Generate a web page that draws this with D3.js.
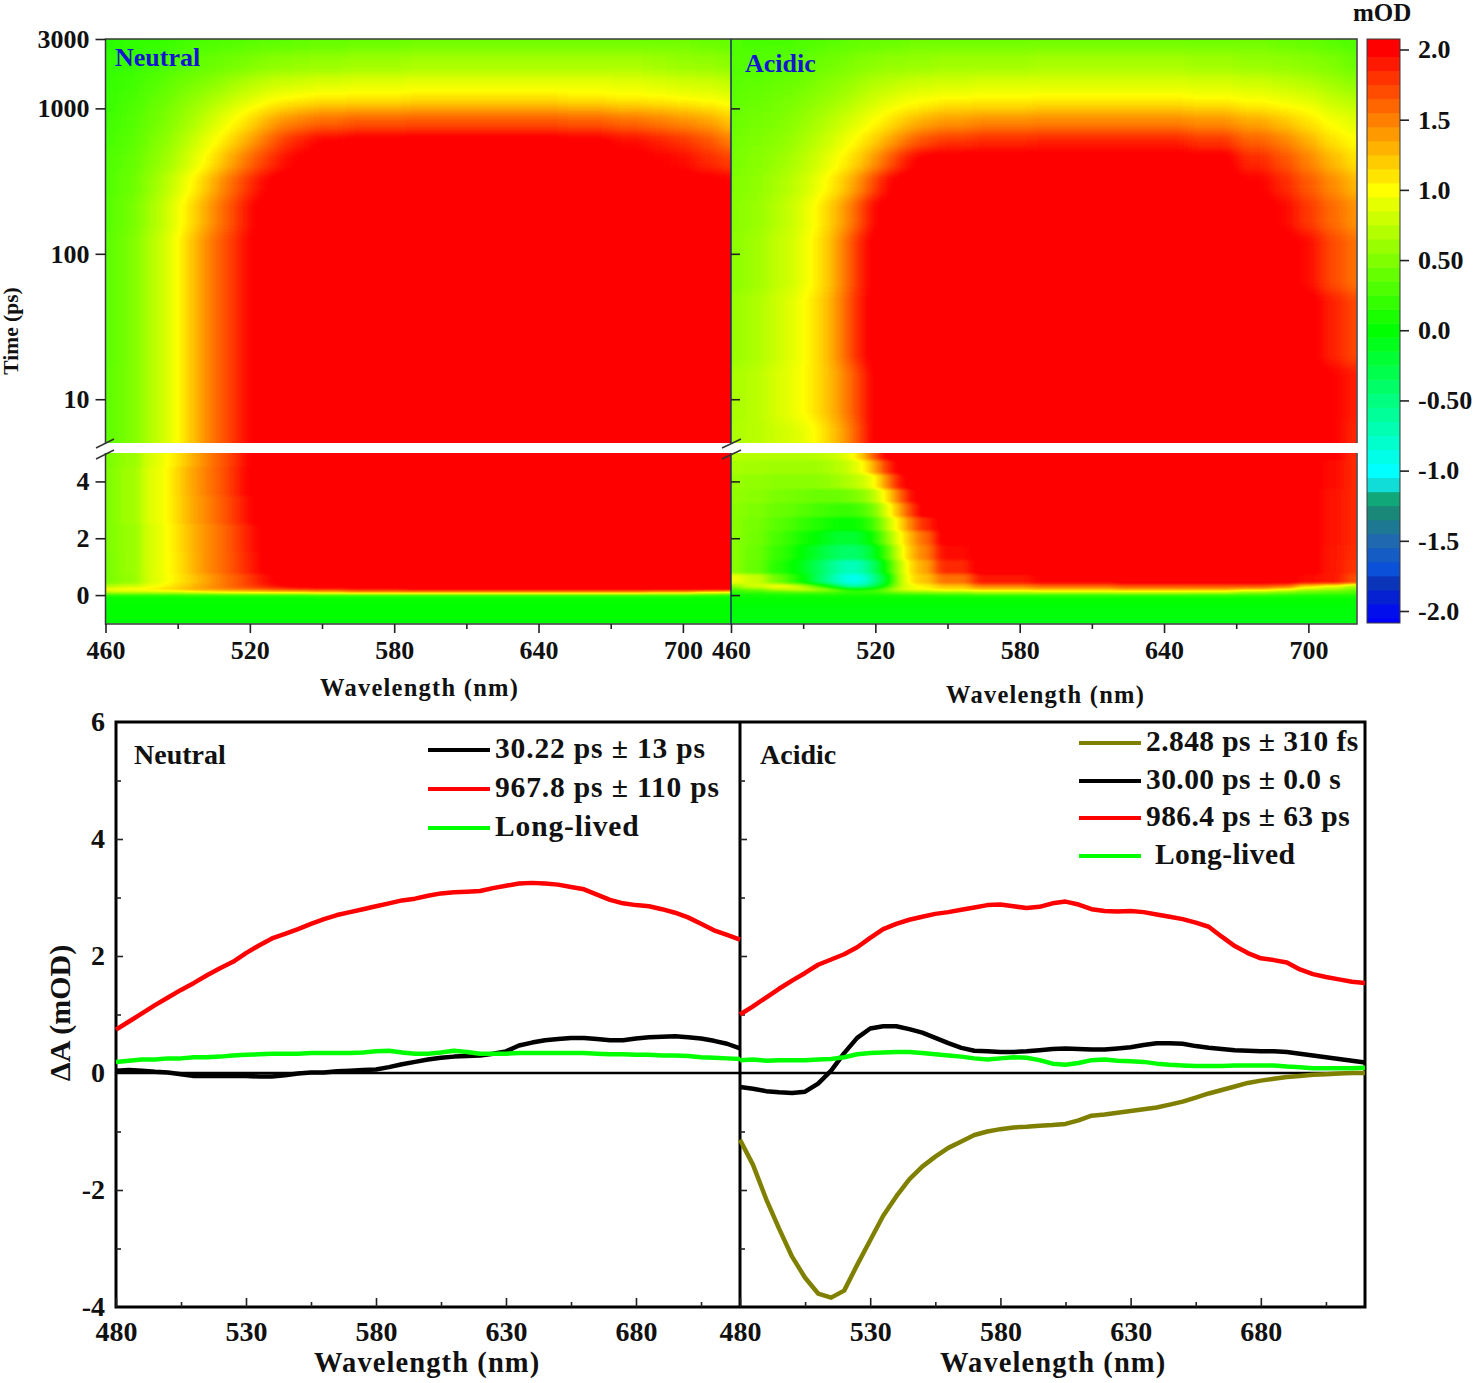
<!DOCTYPE html>
<html lang="en">
	<head>
		<meta charset="utf-8">
		<title>Transient absorption maps and decay spectra</title>
		<script type="text/javascript" src="https://d3js.org/d3.v7.min.js"></script>
		<style type="text/css">
			html, body { margin: 0; padding: 0; background: #fff; }
			svg { display: block; }
			text { font-family: "Liberation Serif", serif; font-weight: bold; fill: #111; }
		</style>
	</head>
	<body>
		<script type="text/javascript">

			//Heat map axes
			var mapWavelengths = [460,470,480,485,490, 495,500,505,510,515, 520,525,530,535,540, 550,570,600,640,660, 680,690,700,710,720];
			var upperTimes = [3000,2000,1500,1200,1000,800,600,450,300,200,100,30,10,5];
			var neutralLowerTimes = [5,4,3,2,1,0.5,0.3,0.2,0.1,0,-0.1,-0.5,-1];
			var acidicLowerTimes = [5,4.5,4,3.5,3,2.5,2,1.5,1,0.5,0.3,0.2,0.1,0,-0.1,-0.5,-1];

			//Heat map values in mOD, one row per time
			var neutralUpperMap = [
				[.15,.18,.20,.22,.25, .27,.30,.30,.32,.33, .35,.36,.36,.37,.38, .40,.42,.45,.45,.45, .45,.45,.45,.42,.40],
				[.20,.22,.27,.30,.33, .36,.40,.42,.45,.47, .50,.52,.55,.56,.57, .60,.62,.65,.65,.65, .65,.62,.60,.58,.55],
				[.20,.25,.32,.37,.42, .46,.50,.55,.60,.65, .70,.75,.78,.80,.82, .85,.88,.90,.90,.90, .88,.85,.82,.80,.75],
				[.22,.27,.36,.42,.48, .54,.60,.66,.72,.78, .84,.90,.95,.98,1.0, 1.03,1.05,1.08,1.08,1.05, 1.02,1.0,.97,.93,.90],
				[.22,.30,.40,.46,.52, .60,.68,.76,.84,.92, 1.0,1.07,1.15,1.2,1.25, 1.3,1.33,1.35,1.35,1.33, 1.28,1.24,1.2,1.14,1.05],
				[.25,.32,.43,.50,.58, .66,.76,.86,.95,1.05, 1.15,1.27,1.38,1.47,1.53, 1.62,1.68,1.7,1.7,1.66, 1.6,1.53,1.47,1.38,1.25],
				[.27,.35,.48,.56,.65, .75,.87,.98,1.1,1.22, 1.35,1.5,1.65,1.78,1.88, 2.0,2.05,2.08,2.08,2.03, 1.95,1.88,1.8,1.68,1.5],
				[.30,.38,.53,.62,.73, .85,.98,1.12,1.27,1.42, 1.58,1.72,1.85,1.95,2.02, 2.1,2.1,2.1,2.1,2.1, 2.05,2.0,1.95,1.85,1.75],
				[.32,.42,.60,.72,.85, 1.0,1.15,1.32,1.5,1.65, 1.82,1.95,2.05,2.1,2.1, 2.1,2.1,2.1,2.1,2.1, 2.1,2.1,2.1,2.05,2.0],
				[.33,.45,.66,.80,.95, 1.12,1.28,1.45,1.62,1.78, 1.95,2.05,2.1,2.1,2.1, 2.1,2.1,2.1,2.1,2.1, 2.1,2.1,2.1,2.1,2.1],
				[.35,.48,.70,.85,1.0, 1.2,1.38,1.55,1.7,1.85, 2.0,2.1,2.1,2.1,2.1, 2.1,2.1,2.1,2.1,2.1, 2.1,2.1,2.1,2.1,2.1],
				[.35,.48,.70,.85,1.0, 1.2,1.38,1.55,1.7,1.85, 2.0,2.1,2.1,2.1,2.1, 2.1,2.1,2.1,2.1,2.1, 2.1,2.1,2.1,2.1,2.1],
				[.36,.48,.70,.85,1.0, 1.2,1.38,1.55,1.7,1.85, 2.0,2.1,2.1,2.1,2.1, 2.1,2.1,2.1,2.1,2.1, 2.1,2.1,2.1,2.1,2.1],
				[.37,.48,.70,.85,1.0, 1.2,1.38,1.55,1.7,1.85, 2.0,2.1,2.1,2.1,2.1, 2.1,2.1,2.1,2.1,2.1, 2.1,2.1,2.1,2.1,2.1]
			];
			var neutralLowerMap = [
				[.48,.60,.86,.98,1.12, 1.28,1.42,1.56,1.7,1.85, 2.0,2.1,2.1,2.1,2.1, 2.1,2.1,2.1,2.1,2.1, 2.1,2.1,2.1,2.1,2.1],
				[.50,.62,.88,1.0,1.16, 1.32,1.45,1.58,1.72,1.87, 2.02,2.1,2.1,2.1,2.1, 2.1,2.1,2.1,2.1,2.1, 2.1,2.1,2.1,2.1,2.1],
				[.50,.62,.88,1.0,1.15, 1.3,1.42,1.55,1.68,1.82, 1.98,2.08,2.1,2.1,2.1, 2.1,2.1,2.1,2.1,2.1, 2.1,2.1,2.1,2.1,2.1],
				[.50,.60,.86,.98,1.12, 1.26,1.38,1.5,1.62,1.76, 1.9,2.02,2.1,2.1,2.1, 2.1,2.1,2.1,2.1,2.1, 2.1,2.1,2.1,2.1,2.1],
				[.48,.60,.86,.98,1.1, 1.25,1.38,1.5,1.62,1.75, 1.88,2.0,2.1,2.1,2.1, 2.1,2.1,2.1,2.1,2.1, 2.1,2.1,2.1,2.1,2.1],
				[.48,.58,.85,.96,1.08, 1.2,1.3,1.42,1.55,1.65, 1.78,1.9,2.0,2.08,2.1, 2.1,2.1,2.1,2.1,2.1, 2.1,2.1,2.1,2.1,2.1],
				[.70,.80,.95,1.05,1.15, 1.25,1.35,1.45,1.55,1.65, 1.75,1.85,1.92,2.0,2.05, 2.1,2.1,2.1,2.1,2.1, 2.1,2.1,2.1,2.1,2.1],
				[1.0,1.05,1.1,1.15,1.2, 1.3,1.35,1.4,1.45,1.5, 1.55,1.6,1.65,1.7,1.75, 1.8,1.9,2.0,2.0,2.0, 2.0,2.0,2.0,2.0,2.0],
				[.70,.72,.75,.78,.80, .85,.90,.95,1.0,1.0, 1.05,1.05,1.1,1.1,1.1, 1.2,1.3,1.3,1.3,1.3, 1.3,1.2,1.2,1.0,.90],
				[.12,.12,.12,.12,.12, .14,.14,.14,.15,.15, .15,.15,.15,.16,.16, .18,.20,.20,.20,.20, .20,.18,.18,.15,.14],
				[.03,.03,.03,.03,.03, .03,.03,.03,.03,.03, .03,.03,.03,.03,.03, .03,.03,.03,.03,.03, .03,.03,.03,.03,.03],
				[0,0,0,0,0, 0,0,0,0,0, 0,0,0,0,0, 0,0,0,0,0, 0,0,0,0,0],
				[0,0,0,0,0, 0,0,0,0,0, 0,0,0,0,0, 0,0,0,0,0, 0,0,0,0,0]
			];
			var acidicUpperMap = [
				[.30,.28,.28,.28,.30, .32,.35,.35,.38,.40, .40,.42,.42,.45,.45, .45,.45,.45,.45,.45, .45,.42,.40,.35,.30],
				[.33,.33,.35,.37,.40, .42,.45,.47,.50,.52, .55,.57,.58,.60,.60, .62,.62,.65,.65,.62, .60,.58,.55,.50,.42],
				[.35,.37,.40,.42,.45, .48,.52,.56,.60,.65, .70,.72,.75,.78,.80, .82,.85,.85,.85,.83, .80,.75,.70,.62,.55],
				[.37,.40,.44,.47,.50, .54,.58,.63,.68,.74, .80,.84,.90,.93,.95, .98,1.0,1.02,1.02,.98, .95,.90,.85,.75,.68],
				[.40,.43,.47,.50,.55, .60,.64,.70,.76,.83, .90,.96,1.02,1.07,1.12, 1.18,1.2,1.22,1.22,1.2, 1.12,1.05,.98,.86,.78],
				[.42,.46,.50,.55,.60, .65,.70,.78,.85,.93, 1.02,1.1,1.2,1.28,1.35, 1.42,1.48,1.5,1.5,1.45, 1.35,1.25,1.12,.98,.88],
				[.45,.50,.55,.60,.66, .72,.80,.88,.98,1.08, 1.2,1.32,1.45,1.58,1.7, 1.8,1.85,1.88,1.88,1.8, 1.62,1.48,1.3,1.12,1.0],
				[.47,.52,.60,.66,.72, .80,.90,1.0,1.12,1.25, 1.42,1.6,1.8,1.95,2.05, 2.1,2.1,2.1,2.1,2.05, 1.85,1.68,1.48,1.28,1.12],
				[.50,.56,.65,.72,.80, .90,1.02,1.15,1.3,1.5, 1.75,1.95,2.1,2.1,2.1, 2.1,2.1,2.1,2.1,2.1, 2.0,1.85,1.65,1.45,1.28],
				[.52,.60,.70,.78,.88, 1.0,1.15,1.3,1.5,1.75, 2.0,2.1,2.1,2.1,2.1, 2.1,2.1,2.1,2.1,2.1, 2.1,1.98,1.78,1.58,1.42],
				[.55,.62,.75,.82,.92, 1.05,1.2,1.4,1.65,1.9, 2.08,2.1,2.1,2.1,2.1, 2.1,2.1,2.1,2.1,2.1, 2.1,2.1,1.95,1.72,1.55],
				[.60,.68,.80,.88,.98, 1.1,1.25,1.45,1.7,1.95, 2.1,2.1,2.1,2.1,2.1, 2.1,2.1,2.1,2.1,2.1, 2.1,2.1,2.08,1.88,1.72],
				[.65,.72,.85,.92,1.0, 1.1,1.22,1.38,1.58,1.82, 2.05,2.1,2.1,2.1,2.1, 2.1,2.1,2.1,2.1,2.1, 2.1,2.1,2.1,2.0,1.88],
				[.68,.72,.80,.85,.90, 1.0,1.15,1.3,1.5,1.8, 2.1,2.1,2.1,2.1,2.1, 2.1,2.1,2.1,2.1,2.1, 2.1,2.1,2.1,2.0,1.85]
			];
			var acidicLowerMap = [
				[.72,.70,.70,.70,.70, .72,.75,.82,.95,1.25, 1.7,2.05,2.1,2.1,2.1, 2.1,2.1,2.1,2.1,2.1, 2.1,2.1,2.1,2.0,1.85],
				[.66,.64,.62,.62,.62, .63,.66,.72,.82,1.0, 1.35,1.8,2.05,2.1,2.1, 2.1,2.1,2.1,2.1,2.1, 2.1,2.1,2.05,1.95,1.85],
				[.60,.58,.55,.55,.55, .55,.58,.62,.70,.80, 1.0,1.45,1.9,2.1,2.1, 2.1,2.1,2.1,2.1,2.1, 2.1,2.1,2.05,1.95,1.85],
				[.58,.54,.48,.46,.44, .42,.42,.42,.46,.55, .75,1.1,1.55,1.95,2.1, 2.1,2.1,2.1,2.1,2.1, 2.1,2.1,2.05,1.92,1.85],
				[.55,.50,.42,.38,.33, .28,.25,.22,.22,.30, .50,.90,1.3,1.75,2.1, 2.1,2.1,2.1,2.1,2.1, 2.1,2.1,2.05,1.92,1.85],
				[.55,.47,.35,.28,.20, .14,.08,.03,.02,.08, .30,.72,1.1,1.5,1.85, 2.1,2.1,2.1,2.1,2.1, 2.1,2.1,2.05,1.92,1.85],
				[.55,.45,.28,.18,.08, 0,-.1,-.18,-.2,-.12, .10,.55,.95,1.3,1.6, 2.05,2.1,2.1,2.1,2.1, 2.1,2.1,2.05,1.92,1.85],
				[.55,.42,.22,.10,-.02, -.15,-.28,-.38,-.42,-.35, -.1,.30,.85,1.25,1.5, 1.95,2.1,2.1,2.1,2.1, 2.1,2.1,2.05,1.9,1.82],
				[.55,.40,.15,.03,-.1, -.3,-.5,-.65,-.75,-.65, -.35,.10,.70,1.15,1.35, 1.85,2.1,2.1,2.1,2.1, 2.1,2.1,2.05,1.9,1.8],
				[.95,.78,.45,.20,0, -.3,-.55,-.8,-.95,-.9, -.55,-.1,.65,1.1,1.25, 1.55,1.9,2.0,2.05,2.05, 2.05,2.05,1.95,1.9,1.7],
				[.60,.85,1.0,.90,.70, .35,0,-.4,-.7,-.6, -.3,.10,.70,.95,1.05, 1.25,1.5,1.6,1.7,1.7, 1.7,1.6,1.2,1.0,.70],
				[.30,.45,.70,.80,.85, .75,.60,.35,.10,.10, .20,.50,.85,.95,1.0, 1.1,1.2,1.25,1.3,1.3, 1.2,1.0,.70,.60,.45],
				[.15,.20,.25,.30,.30, .30,.30,.25,.20,.20, .25,.35,.45,.50,.55, .60,.70,.75,.80,.75, .60,.50,.40,.35,.30],
				[.05,.05,.05,.08,.08, .08,.08,.05,.05,.05, .05,.08,.10,.10,.10, .12,.15,.15,.15,.15, .15,.12,.10,.10,.10],
				[.02,.02,.02,.02,.02, .02,.02,.02,.02,.02, .02,.02,.02,.02,.02, .02,.02,.02,.02,.02, .02,.02,.02,.02,.02],
				[-.02,-.02,-.02,-.02,-.02, -.02,-.02,-.02,-.02,-.02, -.02,-.02,-.02,-.02,-.02, -.02,-.02,-.02,-.02,-.02, -.02,-.02,-.02,-.02,-.02],
				[-.05,-.05,-.05,-.05,-.05, -.05,-.05,-.05,-.05,-.05, -.05,-.05,-.05,-.05,-.05, -.05,-.05,-.05,-.05,-.05, -.05,-.05,-.05,-.05,-.05]
			];

			//Colour scale of the maps
			var colorStops = [-2.07,-1.8,-1.7,-1.5,-1.3,-1.2,-1.1,-1,-0.5,0,0.5,1,1.5,2,2.07];
			var colorValues = ["#0000ff","#0a35b8","#0a50d8","#2068b0","#1a8878","#10a878","#10dcd8","#00ffff","#00ff80","#00ff00","#80ff00","#ffff00","#ff7f00","#ff0000","#ff0000"];
			var colorbarTicks = [2,1.5,1,0.5,0,-0.5,-1,-1.5,-2];
			var colorbarLabels = ["2.0","1.5","1.0","0.50","0.0","-0.50","-1.0","-1.5","-2.0"];

			//Decay spectra, 480 to 720 nm every 5 nm
			var spectraWavelengths = d3.range(480, 721, 5);
			var neutralBlack = [.04,.05,.04,.02,.01,-.02,-.05,-.05,-.05,-.05,-.05,-.06,-.06,-.04,-.01,.01,.01,.03,.04,.05,.06,.10,.15,.19,.23,.26,.28,.29,.30,.33,.37,.47,.52,.56,.58,.60,.60,.58,.56,.56,.59,.61,.62,.63,.61,.59,.55,.50,.42];
			var neutralRed = [.74,.88,1.02,1.16,1.29,1.42,1.54,1.67,1.79,1.90,2.05,2.18,2.30,2.38,2.46,2.55,2.63,2.70,2.75,2.80,2.85,2.90,2.95,2.98,3.03,3.07,3.09,3.10,3.11,3.16,3.20,3.24,3.25,3.24,3.22,3.18,3.14,3.05,2.96,2.90,2.87,2.85,2.80,2.74,2.66,2.55,2.44,2.36,2.28];
			var neutralGreen = [.19,.21,.23,.23,.25,.25,.27,.27,.28,.30,.31,.32,.33,.33,.33,.34,.34,.34,.34,.35,.37,.38,.35,.33,.33,.35,.38,.36,.33,.33,.33,.34,.34,.34,.34,.34,.34,.33,.32,.32,.31,.31,.30,.30,.29,.27,.26,.25,.24];
			var acidicOlive = [-1.14,-1.57,-2.15,-2.66,-3.14,-3.50,-3.77,-3.84,-3.72,-3.28,-2.86,-2.44,-2.11,-1.82,-1.60,-1.43,-1.28,-1.17,-1.06,-1.00,-.96,-.93,-.92,-.90,-.89,-.87,-.81,-.73,-.71,-.68,-.65,-.62,-.59,-.54,-.49,-.42,-.35,-.29,-.23,-.17,-.13,-.10,-.07,-.05,-.03,-.02,-.01,0,0];
			var acidicBlack = [-.24,-.27,-.31,-.33,-.34,-.32,-.18,.04,.34,.60,.76,.80,.80,.75,.69,.60,.51,.43,.38,.37,.36,.36,.37,.39,.41,.42,.41,.40,.40,.42,.44,.48,.51,.51,.50,.46,.43,.41,.39,.38,.37,.37,.36,.33,.30,.27,.24,.21,.18];
			var acidicRed = [1.0,1.14,1.29,1.44,1.58,1.71,1.85,1.94,2.03,2.15,2.31,2.46,2.55,2.62,2.67,2.72,2.75,2.79,2.83,2.87,2.88,2.85,2.82,2.84,2.90,2.93,2.88,2.80,2.77,2.76,2.77,2.75,2.71,2.67,2.63,2.57,2.50,2.33,2.17,2.05,1.96,1.93,1.89,1.77,1.69,1.64,1.60,1.56,1.54];
			var acidicGreen = [.22,.23,.21,.22,.22,.22,.23,.24,.27,.32,.34,.35,.36,.36,.34,.32,.30,.28,.25,.23,.25,.27,.26,.22,.16,.14,.17,.22,.23,.21,.20,.19,.16,.14,.13,.12,.12,.12,.13,.13,.13,.13,.11,.10,.08,.08,.08,.08,.09];

			var neutralLabels = ["30.22 ps ± 13 ps","967.8 ps ± 110 ps","Long-lived"];
			var acidicLabels = ["2.848 ps ± 310 fs","30.00 ps ± 0.0 s","986.4 ps ± 63 ps","Long-lived"];

			var w = 1477;
			var h = 1383;

			var svg = d3.select("body")
						.append("svg")
						.attr("width", w)
						.attr("height", h);

			var defs = svg.append("defs");

			//Colour map: value -> grey -> colour, so that smoothing happens on values and not on RGB
			var colorScale = d3.scaleLinear().domain(colorStops).range(colorValues).clamp(true);
			var greyScale = d3.scaleLinear().domain([-2.07, 2.07]).range([0, 255]).clamp(true);
			var levels = d3.range(256).map(function(i) {
				return d3.rgb(colorScale(greyScale.invert(i)));
			});

			function addMapFilter(id, blur) {
				var filter = defs.append("filter")
					.attr("id", id)
					.attr("filterUnits", "userSpaceOnUse")
					.attr("x", 0).attr("y", 0)
					.attr("width", w).attr("height", h)
					.attr("color-interpolation-filters", "sRGB");
				filter.append("feGaussianBlur").attr("stdDeviation", blur);
				var transfer = filter.append("feComponentTransfer");
				["r", "g", "b"].forEach(function(c) {
					transfer.append("feFunc" + c.toUpperCase())
						.attr("type", "table")
						.attr("tableValues", levels.map(function(l) { return (l[c] / 255).toFixed(3); }).join(" "));
				});
			}
			addMapFilter("blurUpper", "8 6");
			addMapFilter("blurLower", "6 1.4");

			//Scales
			var yUpper = d3.scaleLog().domain([5, 3000]).range([443, 39]);
			var yLower = d3.scaleLinear().domain([-1, 5]).range([623.5, 453]);
			var xNeutralMap = d3.scaleLinear().domain([460, 720]).range([105.5, 731]);
			var xAcidicMap = d3.scaleLinear().domain([460, 720]).range([731, 1356.5]);

			var ySpectra = d3.scaleLinear().domain([-4, 6]).range([1307, 722]);
			var xNeutralSpectra = d3.scaleLinear().domain([480, 720]).range([116, 740]);
			var xAcidicSpectra = d3.scaleLinear().domain([480, 720]).range([740, 1365]);

			var yColorbar = d3.scaleLinear().domain([-2, 2]).range([611, 49.5]);

			//Cell edges halfway between neighbouring centres, outer cells run past the clip
			function cellEdges(centres, scale) {
				return centres.map(function(d, i) {
					var p = scale(d);
					var before = i > 0 ? (scale(centres[i - 1]) + p) / 2 : p - (scale(centres[1]) - p) - 40 * Math.sign(scale(centres[1]) - p);
					var after = i < centres.length - 1 ? (scale(centres[i + 1]) + p) / 2 : p + (p - scale(centres[i - 1])) + 40 * Math.sign(p - scale(centres[i - 1]));
					return [Math.min(before, after), Math.max(before, after)];
				});
			}

			function drawMap(id, xScale, yScale, times, map, filterId) {
				var x0 = xScale.range()[0];
				var x1 = xScale.range()[1];
				var yr = yScale.range();
				defs.append("clipPath").attr("id", "clip" + id)
					.append("rect")
					.attr("x", x0).attr("width", x1 - x0)
					.attr("y", Math.min(yr[0], yr[1])).attr("height", Math.abs(yr[0] - yr[1]));

				var colEdges = cellEdges(mapWavelengths, xScale);
				var rowEdges = cellEdges(times, yScale);
				var cells = [];
				map.forEach(function(row, i) {
					row.forEach(function(v, j) {
						cells.push({ r: rowEdges[i], c: colEdges[j], v: v });
					});
				});

				svg.append("g")
					.attr("clip-path", "url(#clip" + id + ")")
					.append("g")
					.attr("filter", "url(#" + filterId + ")")
					.selectAll("rect")
					.data(cells)
					.enter()
					.append("rect")
					.attr("x", function(d) { return d.c[0]; })
					.attr("y", function(d) { return d.r[0]; })
					.attr("width", function(d) { return d.c[1] - d.c[0] + 0.5; })
					.attr("height", function(d) { return d.r[1] - d.r[0] + 0.5; })
					.attr("shape-rendering", "crispEdges")
					.attr("fill", function(d) {
						var g = Math.round(greyScale(d.v));
						return "rgb(" + g + "," + g + "," + g + ")";
					});
			}

			drawMap("NU", xNeutralMap, yUpper, upperTimes, neutralUpperMap, "blurUpper");
			drawMap("NL", xNeutralMap, yLower, neutralLowerTimes, neutralLowerMap, "blurLower");
			drawMap("AU", xAcidicMap, yUpper, upperTimes, acidicUpperMap, "blurUpper");
			drawMap("AL", xAcidicMap, yLower, acidicLowerTimes, acidicLowerMap, "blurLower");

			//Map frames
			var frame = svg.append("g").attr("fill", "none").attr("stroke", "#3a3a3a").attr("stroke-width", 1.5);
			frame.append("path").attr("d", "M105.5,443V39H1357V443M105.5,453V624H1357V453");
			svg.append("path")
				.attr("d", "M731,39V443M731,453V624")
				.attr("fill", "none")
				.attr("stroke", "#10306a")
				.attr("stroke-width", 1.5);

			//Axis break marks
			[[96, 114], [722, 741]].forEach(function(b) {
				[[448, 439], [459, 450]].forEach(function(c) {
					svg.append("line")
						.attr("x1", b[0]).attr("y1", c[0])
						.attr("x2", b[1]).attr("y2", c[1])
						.attr("stroke", "#333")
						.attr("stroke-width", 1.5);
				});
			});

			function styleAxis(g, size) {
				g.attr("font-size", size);
				g.select(".domain").remove();
				g.selectAll("line").attr("stroke", "#222").attr("stroke-width", 1.6);
				g.selectAll("text").attr("font-family", "Liberation Serif").attr("fill", "#111");
			}

			//Map axes
			[xNeutralMap, xAcidicMap].forEach(function(scale) {
				svg.append("g")
					.attr("transform", "translate(0,624)")
					.call(d3.axisBottom(scale).tickValues([490,550,610,670]).tickSize(5).tickFormat(""))
					.call(styleAxis, 26);
				svg.append("g")
					.attr("transform", "translate(0,624)")
					.call(d3.axisBottom(scale).tickValues([460,520,580,640,700]).tickSize(9).tickPadding(8).tickFormat(d3.format("d")))
					.call(styleAxis, 26);
			});

			svg.append("g")
				.attr("transform", "translate(105.5,0)")
				.call(d3.axisLeft(yUpper).tickValues([3000,1000,100,10]).tickSize(10).tickPadding(6).tickFormat(d3.format("d")))
				.call(styleAxis, 26);
			svg.append("g")
				.attr("transform", "translate(105.5,0)")
				.call(d3.axisLeft(yLower).tickValues([4,2,0]).tickSize(10).tickPadding(6).tickFormat(d3.format("d")))
				.call(styleAxis, 26);
			svg.append("g")
				.attr("transform", "translate(731,0)")
				.call(d3.axisRight(yUpper).tickValues([1000,100,10]).tickSize(9).tickFormat(""))
				.call(styleAxis, 26);
			svg.append("g")
				.attr("transform", "translate(731,0)")
				.call(d3.axisRight(yLower).tickValues([4,2,0]).tickSize(9).tickFormat(""))
				.call(styleAxis, 26);

			//Colour bar
			var barLevels = d3.range(-21, 22).map(function(d) { return d / 10; });
			svg.append("g")
				.selectAll("rect")
				.data(barLevels)
				.enter()
				.append("rect")
				.attr("x", 1367)
				.attr("width", 33)
				.attr("y", function(d) { return Math.max(39, yColorbar(d + 0.05)); })
				.attr("height", function(d) {
					return Math.min(623, yColorbar(d - 0.05) + 0.5) - Math.max(39, yColorbar(d + 0.05));
				})
				.attr("fill", function(d) { return colorScale(d); });
			svg.append("rect")
				.attr("x", 1367).attr("y", 39)
				.attr("width", 33).attr("height", 584)
				.attr("fill", "none")
				.attr("stroke", "#3a3a3a")
				.attr("stroke-width", 1);
			svg.append("g")
				.attr("transform", "translate(1400,0)")
				.call(d3.axisRight(yColorbar).tickValues(colorbarTicks).tickSize(9).tickPadding(9)
					.tickFormat(function(d, i) { return colorbarLabels[i]; }))
				.call(styleAxis, 26);

			//Spectra panels
			svg.append("rect")
				.attr("x", 116).attr("y", 722)
				.attr("width", 1249).attr("height", 585)
				.attr("fill", "none")
				.attr("stroke", "#000")
				.attr("stroke-width", 3);
			svg.append("line")
				.attr("x1", 740).attr("x2", 740)
				.attr("y1", 722).attr("y2", 1307)
				.attr("stroke", "#000")
				.attr("stroke-width", 3);

			[xNeutralSpectra, xAcidicSpectra].forEach(function(scale, i) {
				svg.append("g")
					.attr("transform", "translate(0,1307)")
					.call(d3.axisTop(scale).tickValues([505,555,605,655,705]).tickSize(5).tickFormat(""))
					.call(styleAxis, 28);
				svg.append("g")
					.attr("transform", "translate(0,1307)")
					.call(d3.axisTop(scale).tickValues([480,530,580,630,680]).tickSize(9).tickFormat(""))
					.call(styleAxis, 28);
				svg.append("g")
					.attr("transform", "translate(0,1307)")
					.call(d3.axisBottom(scale).tickValues([480,530,580,630,680]).tickSize(0).tickPadding(14).tickFormat(d3.format("d")))
					.call(styleAxis, 28);
				svg.append("g")
					.attr("transform", "translate(" + scale.range()[0] + ",0)")
					.call(d3.axisRight(ySpectra).tickValues([5,3,1,-1,-3]).tickSize(5).tickFormat(""))
					.call(styleAxis, 28);
				svg.append("g")
					.attr("transform", "translate(" + scale.range()[0] + ",0)")
					.call(d3.axisRight(ySpectra).tickValues([4,2,-2]).tickSize(7).tickFormat(""))
					.call(styleAxis, 28);
			});

			svg.append("g")
				.attr("transform", "translate(116,0)")
				.call(d3.axisLeft(ySpectra).tickValues([6,4,2,0,-2,-4]).tickSize(0).tickPadding(11).tickFormat(String))
				.call(styleAxis, 28);

			//Zero line
			svg.append("line")
				.attr("x1", 116).attr("x2", 1365)
				.attr("y1", ySpectra(0)).attr("y2", ySpectra(0))
				.attr("stroke", "#000")
				.attr("stroke-width", 2.5);

			function drawSeries(xScale, values, color) {
				var line = d3.line()
					.x(function(d, i) { return xScale(spectraWavelengths[i]); })
					.y(function(d) { return ySpectra(d); });
				svg.append("path")
					.datum(values)
					.attr("d", line)
					.attr("fill", "none")
					.attr("stroke", color)
					.attr("stroke-width", 4.5)
					.attr("stroke-linejoin", "round");
			}

			drawSeries(xNeutralSpectra, neutralBlack, "#000000");
			drawSeries(xNeutralSpectra, neutralRed, "#ff0000");
			drawSeries(xNeutralSpectra, neutralGreen, "#00ff00");
			drawSeries(xAcidicSpectra, acidicOlive, "#808000");
			drawSeries(xAcidicSpectra, acidicBlack, "#000000");
			drawSeries(xAcidicSpectra, acidicRed, "#ff0000");
			drawSeries(xAcidicSpectra, acidicGreen, "#00ff00");

			//Legends
			function drawLegend(x0, x1, textX, ys, offset, labels, colors, size, spacing) {
				labels.forEach(function(label, i) {
					svg.append("line")
						.attr("x1", x0).attr("x2", x1)
						.attr("y1", ys[i]).attr("y2", ys[i])
						.attr("stroke", colors[i])
						.attr("stroke-width", 4);
					svg.append("text")
						.attr("x", label === "Long-lived" && labels.length === 4 ? textX + 9 : textX)
						.attr("y", ys[i] + offset)
						.attr("font-size", size)
						.attr("letter-spacing", spacing)
						.text(label);
				});
			}
			drawLegend(428, 490, 495, [750,789,828], 8, neutralLabels, ["#000000","#ff0000","#00ff00"], 29.5, 0.85);
			drawLegend(1079, 1141, 1146, [743,781,818,856], 8, acidicLabels, ["#808000","#000000","#ff0000","#00ff00"], 29.5, 0.42);

			//Titles and axis labels
			function addText(x, y, size, str, color, rotate, spacing) {
				var t = svg.append("text")
					.attr("font-size", size)
					.attr("letter-spacing", spacing || 0)
					.text(str);
				if (rotate) {
					t.attr("transform", "translate(" + x + "," + y + ") rotate(-90)")
					 .attr("text-anchor", "middle");
				} else {
					t.attr("x", x).attr("y", y);
				}
				if (color) t.style("fill", color);
				return t;
			}
			addText(115, 66, 26, "Neutral", "#1414d2");
			addText(745, 72, 26, "Acidic", "#1414d2");
			addText(1353, 21, 25, "mOD");
			addText(320, 696, 24.5, "Wavelength (nm)", null, false, 1.25);
			addText(946, 703, 24.5, "Wavelength (nm)", null, false, 1.25);
			addText(18, 331, 21.5, "Time (ps)", null, true);
			addText(134, 764, 28, "Neutral");
			addText(760, 764, 28, "Acidic");
			addText(314, 1372, 28.5, "Wavelength (nm)", null, false, 1.1);
			addText(940, 1372, 28.5, "Wavelength (nm)", null, false, 1.1);
			addText(70, 1013, 30, "ΔA (mOD)", null, true);

		</script>
	</body>
</html>
